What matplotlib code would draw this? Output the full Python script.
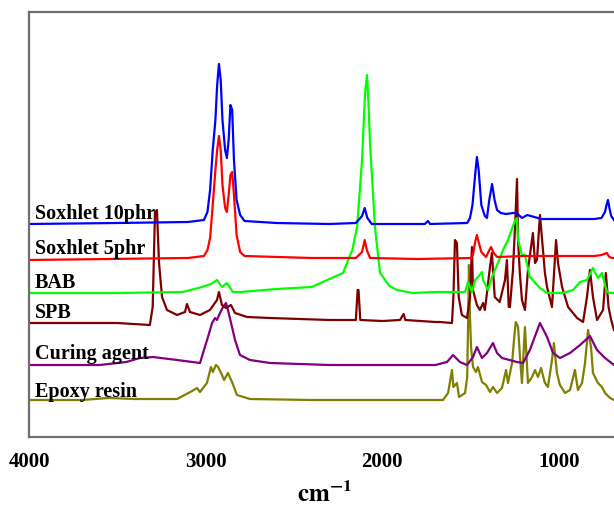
import numpy as np
import matplotlib
matplotlib.use("Agg")
import matplotlib.pyplot as plt

plt.rcParams['font.family'] = ['Liberation Serif', 'DejaVu Serif']
plt.rcParams['mathtext.fontset'] = 'stix'

# FTIR spectra (wavenumber, offset intensity a.u.)
sox10_w = [4000, 3500, 3100, 3010, 2990, 2975, 2960, 2945, 2935, 2925, 2915, 2905, 2890, 2880, 2870,
           2860, 2850, 2840, 2825, 2805, 2780, 2600, 2300, 2150, 2115, 2100, 2085, 2060, 1760, 1742,
           1730, 1520, 1504, 1490, 1475, 1465, 1455, 1440, 1420, 1408, 1395, 1379, 1365, 1351, 1330,
           1300, 1260, 1240, 1210, 1190, 1180, 1100, 1000, 900, 800, 760, 740, 730, 723, 715, 705, 689]
sox10_i = [213, 214, 215, 217, 225, 247, 287, 317, 352, 373, 357, 317, 287, 279, 297,
           332, 327, 277, 237, 222, 216, 214, 213, 214, 221, 229, 219, 213, 213, 216,
           213, 214, 219, 232, 262, 280, 267, 232, 221, 219, 237, 253, 237, 227, 224,
           223, 224, 224, 219, 221, 222, 218, 218, 218, 218, 219, 225, 233, 237, 229, 221, 217]

sox5_w = [4000, 3100, 3010, 2990, 2975, 2960, 2945, 2935, 2925, 2915, 2905, 2890, 2880, 2870, 2860,
          2850, 2840, 2825, 2805, 2780, 2400, 2150, 2115, 2100, 2088, 2070, 1800, 1500, 1487, 1475,
          1465, 1455, 1440, 1413, 1400, 1385, 1370, 1350, 1200, 1000, 800, 760, 745, 730, 715, 700, 689]
sox5_i = [177, 179, 181, 187, 199, 232, 267, 287, 301, 287, 252, 229, 225, 242, 262,
          265, 242, 202, 185, 181, 179, 179, 185, 197, 187, 179, 178, 179, 182, 195,
          202, 195, 185, 180, 185, 190, 184, 180, 181, 181, 181, 182, 183, 184, 180, 179, 179]

bab_w = [4000, 3500, 3130, 3021, 2970, 2936, 2908, 2880, 2846, 2800, 2600, 2400, 2223, 2170, 2143,
         2115, 2098, 2087, 2078, 2070, 2042, 2013, 1960, 1917, 1827, 1700, 1532, 1515, 1493, 1475,
         1459, 1436, 1430, 1402, 1380, 1346, 1317, 1289, 1265, 1250, 1238, 1232, 1210, 1193, 1165,
         1108, 1068, 978, 921, 881, 842, 808, 780, 757, 729, 710, 689]
bab_i = [144, 144, 145, 150, 153, 157, 150, 154, 145, 145, 148, 150, 164, 187, 210,
         277, 344, 362, 332, 294, 210, 164, 151, 147, 144, 145, 145, 155, 145, 157,
         160, 165, 157, 147, 160, 174, 187, 197, 209, 216, 219, 197, 182, 182, 160,
         149, 144, 144, 147, 155, 157, 169, 159, 164, 145, 144, 144]

spb_w = [4000, 3500, 3316, 3300, 3287, 3276, 3264, 3247, 3219, 3162, 3117, 3106, 3089, 3032, 2976,
         2936, 2925, 2908, 2885, 2857, 2834, 2766, 2636, 2300, 2150, 2140, 2135, 2125, 2000, 1900,
         1880, 1870, 1700, 1674, 1606, 1598, 1589, 1578, 1568, 1550, 1521, 1504, 1493, 1487, 1465,
         1448, 1430, 1420, 1410, 1391, 1380, 1364, 1336, 1306, 1295, 1285, 1278, 1261, 1250, 1238,
         1232, 1222, 1210, 1193, 1176, 1148, 1136, 1125, 1108, 1091, 1080, 1068, 1040, 1017, 1006,
         983, 949, 898, 864, 842, 825, 808, 785, 751, 735, 720, 705, 689]
spb_i = [114, 114, 112, 130, 224, 227, 174, 140, 127, 122, 125, 133, 125, 122, 127,
         137, 145, 132, 129, 132, 124, 120, 119, 117, 117, 147, 147, 117, 116, 117,
         123, 117, 115, 115, 114, 140, 197, 194, 140, 122, 119, 140, 190, 147, 132,
         127, 134, 127, 141, 170, 184, 140, 135, 157, 177, 130, 130, 167, 207, 258,
         197, 164, 137, 127, 167, 204, 174, 177, 222, 187, 164, 150, 130, 197, 174,
         150, 130, 119, 115, 140, 167, 140, 117, 127, 164, 130, 117, 107]

cur_w = [4000, 3600, 3450, 3372, 3298, 3162, 3032, 3015, 2987, 2964, 2947, 2936, 2919, 2902, 2885,
         2874, 2851, 2834, 2806, 2749, 2636, 2300, 1700, 1634, 1600, 1561, 1521, 1487, 1465, 1436,
         1408, 1374, 1351, 1323, 1238, 1204, 1165, 1108, 1068, 1034, 995, 938, 881, 825, 785, 740, 689]
cur_i = [72, 72, 75, 79, 80, 77, 74, 84, 100, 114, 119, 117, 124, 130, 134,
         127, 110, 97, 82, 77, 74, 72, 72, 75, 82, 75, 72, 80, 90, 79,
         84, 94, 84, 79, 75, 74, 87, 114, 100, 84, 79, 84, 92, 101, 87, 79, 72]

epo_w = [4000, 3700, 3550, 3400, 3162, 3077, 3049, 3032, 2993, 2970, 2959, 2942, 2930, 2913, 2896,
         2874, 2851, 2823, 2749, 2400, 2000, 1700, 1657, 1628, 1606, 1598, 1578, 1566, 1532, 1520,
         1514, 1510, 1504, 1498, 1487, 1470, 1459, 1436, 1413, 1391, 1374, 1351, 1323, 1300, 1289,
         1266, 1255, 1245, 1232, 1221, 1210, 1193, 1176, 1153, 1136, 1119, 1102, 1080, 1063, 1040,
         1029, 1012, 995, 966, 938, 910, 893, 870, 853, 836, 819, 808, 780, 757, 740, 711, 689]
epo_i = [37, 37, 39, 38, 38, 46, 49, 45, 54, 70, 65, 72, 70, 64, 57,
         64, 55, 42, 38, 37, 37, 37, 37, 44, 67, 50, 54, 40, 44, 60,
         120, 172, 120, 90, 70, 65, 70, 55, 52, 45, 50, 44, 49, 67, 54,
         74, 97, 115, 110, 80, 54, 110, 54, 60, 67, 60, 69, 54, 50, 77,
         94, 64, 52, 44, 47, 67, 47, 54, 74, 107, 90, 64, 54, 50, 44, 39, 37]

names = ['Soxhlet 10phr', 'Soxhlet 5phr', 'BAB', 'SPB', 'Curing agent', 'Epoxy resin']
label_y = [218, 183, 149, 119, 78, 40]
colors = ['#0000ff', '#ff0000', '#00ff00', '#800000', '#800080', '#808000']
xs = [sox10_w, sox5_w, bab_w, spb_w, cur_w, epo_w]
ys = [sox10_i, sox5_i, bab_i, spb_i, cur_i, epo_i]

fig = plt.figure(figsize=(6.14, 5.17), dpi=100)
ax = fig.add_axes([29 / 614, 80 / 517, 585 / 614, 425 / 517])

# draw bottom trace first so the upper ones sit on top
for w, a, c in reversed(list(zip(xs, ys, colors))):
    ax.plot(w, a, color=c, lw=1.6)

for n, yy in zip(names, label_y):
    ax.text(3966, yy, n, fontsize=14.5, fontweight='bold', va='baseline', ha='left')

ax.set_xlim(4000, 689)
ax.set_ylim(0, 425)
ax.set_xticks([4000, 3000, 2000, 1000])
ax.set_xticklabels(['4000', '3000', '2000', '1000'], fontsize=15, fontweight='bold')
ax.set_yticks([])
ax.tick_params(axis='x', length=0, pad=11)
for s in ['left', 'top', 'bottom']:
    ax.spines[s].set_color('#6e6e6e')
    ax.spines[s].set_linewidth(1.6)
ax.spines['right'].set_visible(False)

fig.text(325 / 614, 1 - 494 / 517, r'$\mathbf{cm^{-1}}$', fontsize=18, ha='center', va='center')

fig.savefig('out.png', dpi=100)
